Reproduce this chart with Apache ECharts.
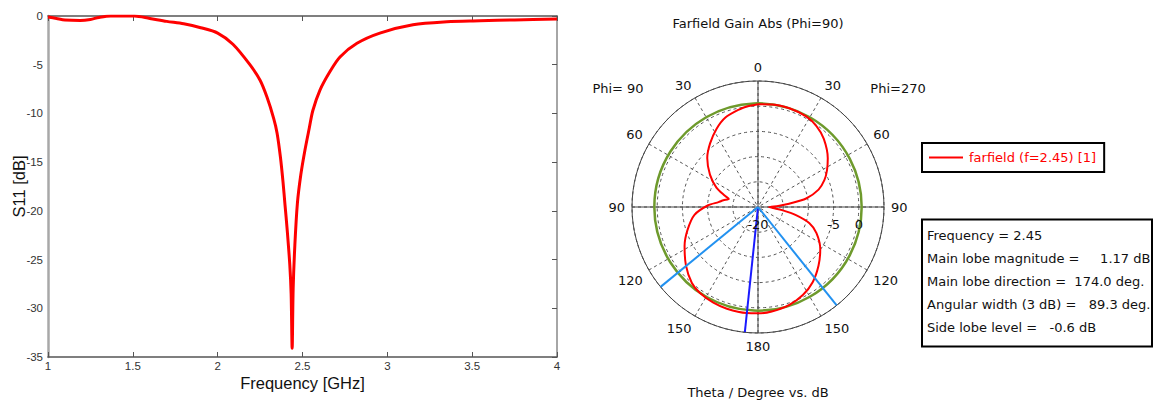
<!DOCTYPE html>
<html><head><meta charset="utf-8">
<script src="https://cdn.jsdelivr.net/npm/echarts@6/dist/echarts.min.js"></script>
<style>html,body{margin:0;padding:0;background:#fff}#c{width:1156px;height:401px}</style>
</head><body><div id="c"></div>
<script>
// ---- S11 data ----
const freqGHz = [1.00, 1.05, 1.10, 1.19, 1.25, 1.30, 1.37, 1.45, 1.51, 1.60, 1.70, 1.80, 1.90, 2.00, 2.09, 2.19, 2.25, 2.29, 2.33, 2.35, 2.37, 2.385, 2.397, 2.41, 2.425, 2.433, 2.439, 2.445, 2.455, 2.47, 2.49, 2.514, 2.54, 2.561, 2.603, 2.662, 2.721, 2.821, 2.956, 3.151, 3.351, 3.546, 3.75, 4.00];
const s11dB   = [-0.1, -0.25, -0.4, -0.45, -0.35, -0.15, 0, 0, 0, -0.25, -0.55, -0.8, -1.2, -1.75, -2.9, -5.0, -6.6, -8.3, -10.5, -12.0, -14.5, -17.0, -19.4, -22.0, -25.5, -28.5, -34.1, -28.0, -23.5, -19.2, -16.3, -13.8, -11.5, -9.7, -7.6, -5.7, -4.2, -2.8, -1.75, -0.9, -0.6, -0.5, -0.4, -0.3];
const xTickValues = [1, 1.5, 2, 2.5, 3, 3.5, 4];
const yTickValues = [0, -5, -10, -15, -20, -25, -30, -35];

// ---- Farfield polar data (theta in degrees, gain in dB) ----
const thetaDeg = [0, 6, 11, 20, 28, 37, 46, 56, 65, 71, 74.5, 79, 83, 88, 97, 108, 118, 129, 139, 146, 155, 163, 174, 180, 187.5, 197.5, 207, 216, 226, 236, 246, 252.5, 258, 262.5, 266, 270, 273, 276, 280, 286, 292, 298, 305, 316, 324, 332, 342, 352, 360];
const gainDB   = [0.4, 0.1, -0.3, -1.1, -2.45, -4.2, -6.0, -8.5, -10.9, -13.0, -14.0, -13.0, -12.1, -10.1, -7.3, -5.3, -3.5, -1.6, 0.0, 0.6, 0.95, 1.1, 1.17, 1.1, 0.9, 0.4, -0.4, -1.55, -3.3, -5.1, -7.3, -9.3, -12.3, -15.2, -17.0, -17.8, -16.0, -13.8, -10.3, -7.5, -5.8, -4.5, -3.1, -1.2, -0.2, 0.35, 0.55, 0.55, 0.4];
const radialTickLabels = [-20, -5, 0];
const radialRange = [-20, 5];
const mainLobeDirection = 174.0;
const beamEdges = [129.35, 218.65];
const sideLobeLevelAbs = 0.57;
const seriesName = 'farfield (f=2.45) [1]';
const infoLines = [
  'Frequency = 2.45',
  'Main lobe magnitude =     1.17 dB',
  'Main lobe direction =  174.0 deg.',
  'Angular width (3 dB) =   89.3 deg.',
  'Side lobe level =   -0.6 dB'
];

const FONT_L = '"Liberation Sans", Arial, sans-serif';
const FONT_R = '"DejaVu Sans", Verdana, sans-serif';
const axisDark = '#555';
const chart = echarts.init(document.getElementById('c'), null, {renderer: 'svg'});

const s11Data = freqGHz.map((f, i) => [f, s11dB[i]]);
const gainData = thetaDeg.map((t, i) => [gainDB[i], t]);

function cartAxis(extra) {
  return Object.assign({
    type: 'value',
    axisLine: {show: true, onZero: false, lineStyle: {color: axisDark, width: 1.5}},
    axisTick: {show: true, inside: true, length: 5, lineStyle: {color: axisDark}},
    splitLine: {show: false},
    axisLabel: {show: false}
  }, extra);
}

const option = {
  backgroundColor: '#fff',
  animation: false,
  grid: {left: 48, top: 16, width: 509, height: 341},
  xAxis: [
    cartAxis({min: 1, max: 4, interval: 0.5, position: 'bottom',
      axisLabel: {show: true, color: '#333', fontFamily: FONT_L, fontSize: 11.5, margin: 3,
        customValues: xTickValues},
      name: 'Frequency [GHz]', nameLocation: 'middle', nameGap: 17, nameMoveOverlap: false,
      nameTextStyle: {color: '#111', fontFamily: FONT_L, fontSize: 16.5}}),
    cartAxis({min: 1, max: 4, interval: 0.5, position: 'top'})
  ],
  yAxis: [
    cartAxis({min: -35, max: 0, interval: 5, position: 'left',
      axisLine: {show: true, onZero: false, lineStyle: {color: '#a8a8a8', width: 2.5}},
      axisTick: {show: false},
      axisLabel: {show: true, color: '#333', fontFamily: FONT_L, fontSize: 11.5, margin: 5,
        customValues: yTickValues},
      name: 'S11 [dB]', nameLocation: 'middle', nameGap: 21, nameMoveOverlap: false,
      nameTextStyle: {color: '#111', fontFamily: FONT_L, fontSize: 16.5}}),
    cartAxis({min: -35, max: 0, interval: 5, position: 'right',
      axisLine: {show: true, onZero: false, lineStyle: {color: '#888', width: 1.5}}})
  ],
  polar: {center: [758, 207], radius: 126},
  angleAxis: {
    type: 'value', min: 0, max: 360, interval: 30, startAngle: 90, clockwise: false,
    axisLine: {show: true, lineStyle: {color: '#444', width: 1}},
    axisTick: {show: false},
    axisLabel: {show: true, margin: 7, color: '#111', fontFamily: FONT_R, fontSize: 13,
      formatter: v => (v >= 360 ? '' : String(v > 180 ? 360 - v : v))},
    splitLine: {show: true, lineStyle: {color: '#555', width: 1, type: [3, 3]}}
  },
  radiusAxis: {
    type: 'value', min: radialRange[0], max: radialRange[1], interval: 5,
    axisLine: {show: false}, axisTick: {show: false}, axisLabel: {show: false},
    splitLine: {show: true, lineStyle: {color: '#555', width: 1, type: [3, 3]}}
  },
  legend: {
    data: [seriesName], left: 922, top: 143, orient: 'vertical',
    padding: [8, 8, 8, 7], borderColor: '#000', borderWidth: 2, borderRadius: 0,
    icon: 'rect', itemWidth: 34, itemHeight: 2, itemGap: 0,
    textStyle: {color: '#f00', fontFamily: FONT_R, fontSize: 13, padding: [0, 0, 0, 1]},
    selectedMode: false
  },
  graphic: [
    {type: 'text', x: 758, y: 23, style: {text: 'Farfield Gain Abs (Phi=90)', font: '13px ' + FONT_R, fill: '#111', textAlign: 'center', textVerticalAlign: 'middle'}},
    {type: 'text', x: 618, y: 88, style: {text: 'Phi= 90', font: '13px ' + FONT_R, fill: '#111', textAlign: 'center', textVerticalAlign: 'middle'}},
    {type: 'text', x: 898, y: 88, style: {text: 'Phi=270', font: '13px ' + FONT_R, fill: '#111', textAlign: 'center', textVerticalAlign: 'middle'}},
    {type: 'text', x: 758, y: 392, style: {text: 'Theta / Degree vs. dB', font: '13px ' + FONT_R, fill: '#111', textAlign: 'center', textVerticalAlign: 'middle'}},
    {type: 'rect', shape: {x: 922, y: 219.5, width: 230, height: 127}, style: {fill: '#fff', stroke: '#000', lineWidth: 2}},
    {type: 'text', x: 927, y: 235, style: {text: infoLines[0], font: '13px ' + FONT_R, fill: '#111', textVerticalAlign: 'middle'}},
    {type: 'text', x: 927, y: 258, style: {text: infoLines[1], font: '13px ' + FONT_R, fill: '#111', textVerticalAlign: 'middle'}},
    {type: 'text', x: 927, y: 281.5, style: {text: infoLines[2], font: '13px ' + FONT_R, fill: '#111', textVerticalAlign: 'middle'}},
    {type: 'text', x: 927, y: 304, style: {text: infoLines[3], font: '13px ' + FONT_R, fill: '#111', textVerticalAlign: 'middle'}},
    {type: 'text', x: 927, y: 327, style: {text: infoLines[4], font: '13px ' + FONT_R, fill: '#111', textVerticalAlign: 'middle'}}
  ],
  series: [
    {type: 'line', xAxisIndex: 0, yAxisIndex: 0, data: s11Data, showSymbol: false, symbol: 'none',
     smooth: 0.3, lineStyle: {color: '#ff0000', width: 3}, z: 5},
    // solid cross-hair axes of the polar plot
    {type: 'line', coordinateSystem: 'polar', data: [[radialRange[1], 0], [radialRange[1], 180]], symbol: 'none',
     lineStyle: {color: '#444', width: 1}, z: 1, silent: true},
    {type: 'line', coordinateSystem: 'polar', data: [[radialRange[1], 90], [radialRange[1], 270]], symbol: 'none',
     lineStyle: {color: '#444', width: 1}, z: 1, silent: true},
    // side lobe level circle
    {type: 'custom', coordinateSystem: 'polar', data: [[sideLobeLevelAbs, 0]], silent: true, z: 2,
     renderItem: function (params, api) {
       const cs = params.coordSys;
       const p = api.coord([api.value(0), 0]);
       const r = Math.hypot(p[0] - cs.cx, p[1] - cs.cy);
       return {type: 'circle', shape: {cx: cs.cx, cy: cs.cy, r: r},
               style: {fill: 'none', stroke: '#6e9a2c', lineWidth: 2.5}};
     }},
    {name: seriesName, type: 'line', coordinateSystem: 'polar', data: gainData, symbol: 'none', smooth: 0.25,
     lineStyle: {color: '#ff0000', width: 2}, itemStyle: {color: '#ff0000'}, z: 3},
    // main lobe direction and 3 dB beam edges
    {type: 'line', coordinateSystem: 'polar', data: [[radialRange[0], mainLobeDirection], [radialRange[1], mainLobeDirection]],
     symbol: 'none', lineStyle: {color: '#1a1aff', width: 2}, z: 4, silent: true},
    {type: 'line', coordinateSystem: 'polar', data: [[radialRange[0], beamEdges[0]], [radialRange[1], beamEdges[0]]],
     symbol: 'none', lineStyle: {color: '#2291f0', width: 2}, z: 4, silent: true},
    {type: 'line', coordinateSystem: 'polar', data: [[radialRange[0], beamEdges[1]], [radialRange[1], beamEdges[1]]],
     symbol: 'none', lineStyle: {color: '#2291f0', width: 2}, z: 4, silent: true},
    // radial tick labels along the 90° (Phi=270) direction
    {type: 'custom', coordinateSystem: 'polar', data: radialTickLabels.map(v => [v, 270]), silent: true, z: 6,
     renderItem: function (params, api) {
       const p = api.coord([api.value(0), api.value(1)]);
       return {type: 'text', x: p[0], y: p[1] + 17,
               style: {text: String(api.value(0)), font: '13px ' + FONT_R, fill: '#111',
                       textAlign: 'center', textVerticalAlign: 'middle'}};
     }}
  ]
};
chart.setOption(option);
</script>
</body></html>
